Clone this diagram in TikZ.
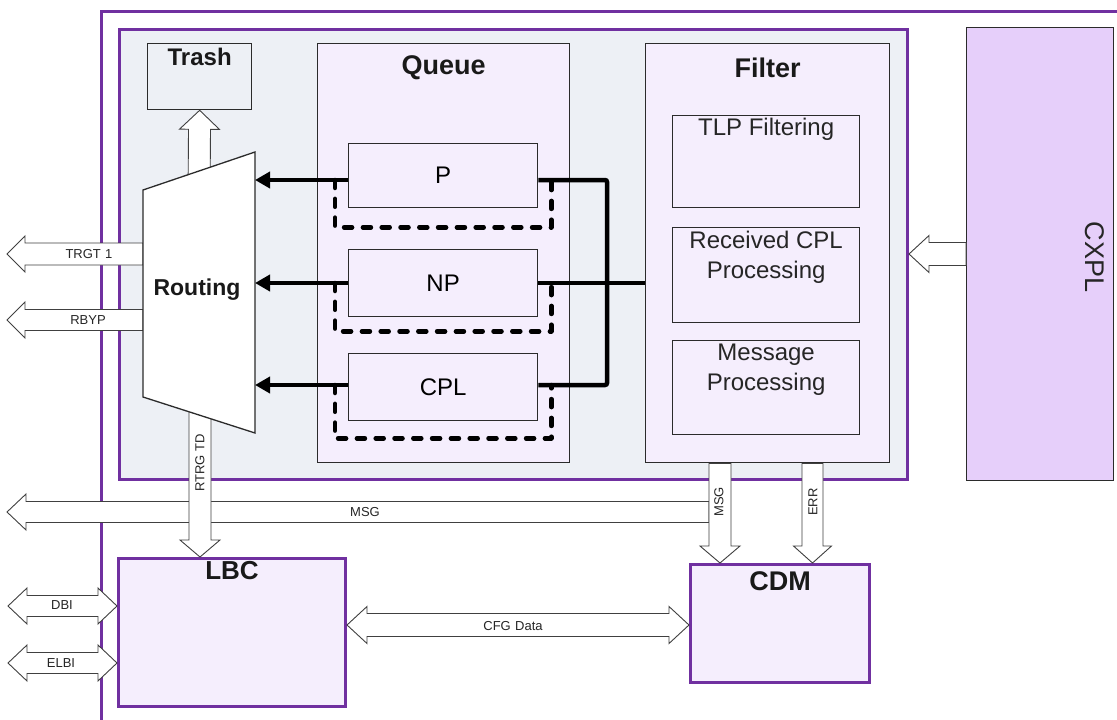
\documentclass[tikz,border=0pt]{standalone}
\usepackage{fontspec}
\setmainfont{Liberation Sans}
\usetikzlibrary{calc,arrows.meta}
\definecolor{purp}{HTML}{7030A0}
\definecolor{inbg}{HTML}{EDF0F5}
\definecolor{lav}{HTML}{F5EEFD}
\definecolor{cxplc}{HTML}{E6CFFA}
\definecolor{bdr}{HTML}{2B2B2B}
\newcommand\fs[2]{\fontsize{#1}{#2}\selectfont}
% block arrow: from, to, body half width, head half width, head length
\newcommand\blockarrow[5]{%
 \draw[blk] let \p1=#1, \p2=#2, \n1={atan2(\y2-\y1,\x2-\x1)}, \n2={veclen(\x2-\x1,\y2-\y1)} in
  ([shift={(\p1)},rotate=\n1]0pt,#3) -- ([shift={(\p1)},rotate=\n1]\n2-#5,#3)
  -- ([shift={(\p1)},rotate=\n1]\n2-#5,#4) -- ([shift={(\p1)},rotate=\n1]\n2,0pt)
  -- ([shift={(\p1)},rotate=\n1]\n2-#5,-#4) -- ([shift={(\p1)},rotate=\n1]\n2-#5,-#3)
  -- ([shift={(\p1)},rotate=\n1]0pt,-#3) -- cycle;}
% double block arrow
\newcommand\dblarrow[5]{%
 \draw[blk] let \p1=#1, \p2=#2, \n1={atan2(\y2-\y1,\x2-\x1)}, \n2={veclen(\x2-\x1,\y2-\y1)} in
  ([shift={(\p1)},rotate=\n1]0pt,0pt) -- ([shift={(\p1)},rotate=\n1]#5,#4)
  -- ([shift={(\p1)},rotate=\n1]#5,#3) -- ([shift={(\p1)},rotate=\n1]\n2-#5,#3)
  -- ([shift={(\p1)},rotate=\n1]\n2-#5,#4) -- ([shift={(\p1)},rotate=\n1]\n2,0pt)
  -- ([shift={(\p1)},rotate=\n1]\n2-#5,-#4) -- ([shift={(\p1)},rotate=\n1]\n2-#5,-#3)
  -- ([shift={(\p1)},rotate=\n1]#5,-#3) -- ([shift={(\p1)},rotate=\n1]#5,-#4) -- cycle;}
\tikzset{
 box/.style={draw=bdr, fill=lav, line width=1.3pt, inner sep=0pt, anchor=north west},
 pbox/.style={draw=purp, fill=lav, line width=3pt, inner sep=0pt, anchor=north west},
 title/.style={font=\fs{25}{30}\bfseries, text=black!90, inner sep=0pt},
 txt/.style={font=\fs{24}{30}, text=black!85, align=center, inner sep=0pt},
 small/.style={font=\fs{13}{15}, text=black!85, inner sep=0pt},
 blk/.style={draw=black!75, fill=white, line width=0.9pt, line join=miter},
 conn/.style={line width=4.5pt, draw=black},
 dsh/.style={line width=4.5pt, draw=black, dash pattern=on 8pt off 10.8pt, line cap=round, line join=round},
}
\begin{document}
\begin{tikzpicture}[x=1pt,y=-1pt]
\useasboundingbox (0,0) rectangle (1117,720);
\clip (0,0) rectangle (1117,720);
\fill[white] (0,0) rectangle (1117,720);
% frames
\node[draw=purp, line width=3pt, minimum width=1100pt, minimum height=800pt, anchor=north west, inner sep=0pt] (outer) at (100,10) {};
\node[pbox, fill=inbg, minimum width=788pt, minimum height=450pt] (inner) at (118,28) {};
\node[box, fill=cxplc, minimum width=147pt, minimum height=453pt] (cxpl) at (966,27) {};
\node[txt, font=\fs{27}{30}, rotate=-90] (cxpllbl) at (1095,257) {CXPL};
% trash
\node[box, fill=inbg, minimum width=104pt, minimum height=66pt] (trash) at (147,43) {};
\node[title, font=\fs{24}{28}\bfseries] (trashlbl) at ([yshift=-14pt]trash.north) {Trash};
% queue
\node[box, minimum width=252pt, minimum height=419pt] (queue) at (317,43) {};
\node[title, font=\fs{27}{30}\bfseries] (queuelbl) at ([yshift=-25pt]queue.north) {Queue};
\node[box, minimum width=189pt, minimum height=64pt, font=\fs{24}{30}] (P) at (348,143) {P};
\node[box, minimum width=189pt, minimum height=67pt, font=\fs{24}{30}] (NP) at (348,249) {NP};
\node[box, minimum width=189pt, minimum height=67pt, font=\fs{24}{30}] (CPL) at (348,353) {CPL};
% filter
\node[box, minimum width=244pt, minimum height=419pt] (filter) at (645,43) {};
\node[title, font=\fs{27}{30}\bfseries] (filterlbl) at ([yshift=-25pt]filter.north) {Filter};
\node[box, minimum width=187pt, minimum height=92pt] (tlp) at (672,115) {};
\node[txt, anchor=north] (tlplbl) at ([yshift=-3pt]tlp.north) {TLP Filtering};
\node[box, minimum width=187pt, minimum height=95pt] (rcv) at (672,227) {};
\node[txt, anchor=north] (rcvlbl) at ([yshift=-4pt]rcv.north) {Received CPL\\Processing};
\node[box, minimum width=187pt, minimum height=94pt] (msgp) at (672,340) {};
\node[txt, anchor=north] (msgplbl) at ([yshift=-4pt]msgp.north) {Message\\Processing};
% LBC, CDM
\node[pbox, minimum width=227pt, minimum height=148pt] (lbc) at (117,557) {};
\node[title, font=\fs{26}{30}\bfseries] (lbclbl) at ([yshift=-14pt]lbc.north) {LBC};
\node[pbox, minimum width=179pt, minimum height=118pt] (cdm) at (689,563) {};
\node[title, font=\fs{27}{30}\bfseries] (cdmlbl) at ([yshift=-18pt]cdm.north) {CDM};
% helper coordinates
\coordinate (rTL) at (143,190);
\coordinate (rTR) at (255,152);
\coordinate (rBR) at (255,433);
\coordinate (rBL) at (143,397);
\coordinate (trs) at (199,200);
\coordinate (rtd) at (200,400);
\coordinate (trgt) at (7,254);
\coordinate (rbyp) at (7,320);
\coordinate (msgL) at (7,512);
\coordinate (msgR) at (709,512);
\coordinate (msgX) at (720,0);
\coordinate (errX) at (812.5,0);
\coordinate (cxY) at (0,254);
\coordinate (dbi) at (8,606);
\coordinate (elbi) at (8,663);
\coordinate (cfgY) at (0,625);
% block arrows
\blockarrow{(msgR)}{(msgL)}{10.5pt}{18pt}{19pt}
\blockarrow{(trs)}{(trash.south)}{11pt}{20pt}{19pt}
\blockarrow{(rtd)}{(rtd |- lbc.north)}{11pt}{20pt}{17pt}
\blockarrow{(rBL |- trgt)}{(trgt)}{11pt}{18pt}{18pt}
\blockarrow{(rBL |- rbyp)}{(rbyp)}{10.5pt}{18pt}{18pt}
\blockarrow{(msgX |- filter.south)}{(msgX |- cdm.north)}{11pt}{20pt}{17pt}
\blockarrow{(errX |- filter.south)}{(errX |- cdm.north)}{10.5pt}{19pt}{17pt}
\blockarrow{(cxpl.west |- cxY)}{(inner.east |- cxY)}{11.5pt}{18.5pt}{20pt}
\dblarrow{(dbi)}{(lbc.west |- dbi)}{10.5pt}{18pt}{19pt}
\dblarrow{(elbi)}{(lbc.west |- elbi)}{10.5pt}{18pt}{19pt}
\dblarrow{(lbc.east |- cfgY)}{(cdm.west |- cfgY)}{11.5pt}{18.5pt}{20pt}
% routing
\draw[fill=white, draw=bdr, line width=1.3pt] (rTL) -- (rTR) -- (rBR) -- (rBL) -- cycle;
\node[title, font=\fs{23}{28}\bfseries] (routing) at (197,290) {Routing};
% arrow labels
\node[small] (trgtlbl) at (89,254) {TRGT\,\,1};
\node[small] (rbyplbl) at (88,320) {RBYP};
\node[small] (msglbl) at (365,512) {MSG};
\node[small, rotate=90] (rtdlbl) at (200,463) {RTRG TD};
\node[small, rotate=90] (msgvlbl) at (719,502) {MSG};
\node[small, rotate=90] (errlbl) at (813,502) {ERR};
\node[small] (dbilbl) at (62,605) {DBI};
\node[small] (elbilbl) at (61,663) {ELBI};
\node[small] (cfglbl) at (513,626) {CFG\,\,Data};
% queue connectors
\coordinate (yP) at (0,180);
\coordinate (yN) at (0,283);
\coordinate (yC) at (0,385);
\coordinate (xJ) at (607,0);
\draw[dsh] ($(P.west |- yP)+(-13,0)$) -- ($(P.south west)+(-13,19)$) -- ($(P.south east)+(13,19)$) -- ($(P.east |- yP)+(13,0)$);
\draw[dsh] ($(NP.west |- yN)+(-13,0)$) -- ($(NP.south west)+(-13,14)$) -- ($(NP.south east)+(13,14)$) -- ($(NP.east |- yN)+(13,0)$);
\draw[dsh] ($(CPL.west |- yC)+(-13,0)$) -- ($(CPL.south west)+(-13,17)$) -- ($(CPL.south east)+(13,17)$) -- ($(CPL.east |- yC)+(13,0)$);
\draw[conn, -{Triangle[length=15pt,width=16pt]}] (P.west |- yP) -- (rTR |- yP);
\draw[conn, -{Triangle[length=15pt,width=16pt]}] (NP.west |- yN) -- (rTR |- yN);
\draw[conn, -{Triangle[length=15pt,width=16pt]}] (CPL.west |- yC) -- (rTR |- yC);
\draw[conn, rounded corners=2pt] (P.east |- yP) -- (xJ |- yP) -- (xJ |- yC) -- (CPL.east |- yC);
\draw[conn] (NP.east |- yN) -- (filter.west |- yN);
\end{tikzpicture}
\end{document}
